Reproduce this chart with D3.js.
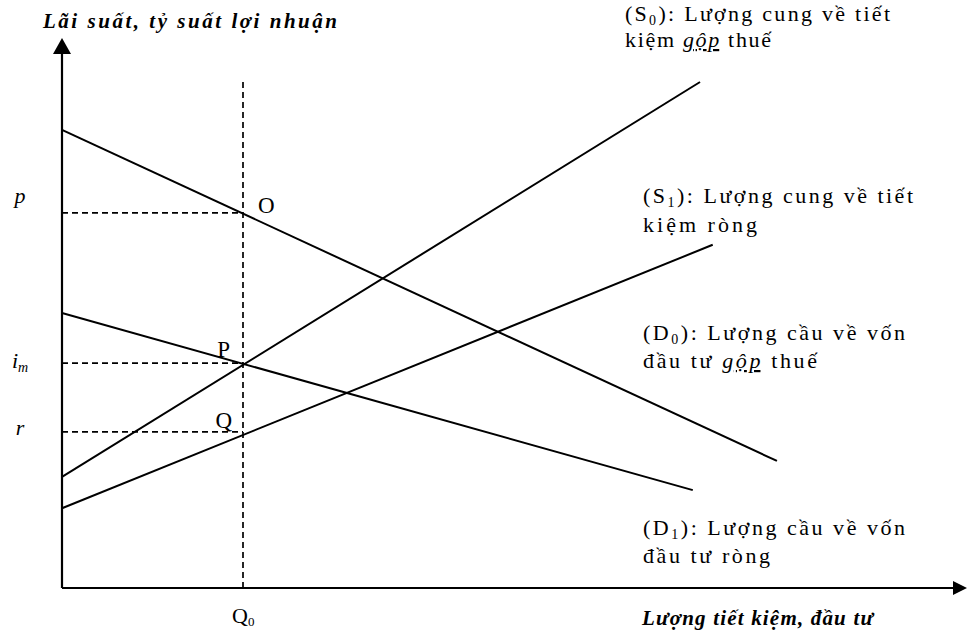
<!DOCTYPE html>
<html>
<head>
<meta charset="utf-8">
<script src="https://cdn.jsdelivr.net/npm/d3@7"></script>
<style>
    body { margin: 0; background: #fff; }
    svg { display: block; }
</style>
</head>
<body>
<svg id="market-chart" width="971" height="632"></svg>
<script>
// quantity (x) and rate (y) are both on a 0..100 scale
const curve_names = ["S0", "S1", "D0", "D1"];
const curve_start_q = [0, 0, 0, 0];
const curve_start_rate = [20.2, 14.5, 83.3, 50];
const curve_end_q = [70.5, 71.9, 79, 69.7];
const curve_end_rate = [92, 62.4, 23.1, 17.8];

// rate levels marked on the y axis: p, i_m, r
const level_names = ["p", "i", "r"];
const level_subs = ["", "m", ""];
const level_values = [68.2, 40.9, 28.4];
const point_names = ["O", "P", "Q"];

// quantity Q0 where the dashed vertical sits
const q0_value = 20;
const q0_top = 92.7;

// legend texts for the four curves
const legend_symbols = ["S", "S", "D", "D"];
const legend_subs = ["0", "1", "0", "1"];
const legend_line1 = ["): Lượng cung về tiết", "): Lượng cung về tiết", "): Lượng cầu về vốn", "): Lượng cầu về vốn"];
const legend_line2_start = ["kiệm ", "kiệm ròng", "đầu tư ", "đầu tư ròng"];
const legend_line2_gross = ["gộp", "", "gộp", ""];
const legend_line2_end = [" thuế", "", " thuế", ""];

const y_title = "Lãi suất, tỷ suất lợi nhuận";
const x_title = "Lượng tiết kiệm, đầu tư";

const serif = "'Liberation Serif', 'Times New Roman', serif";

function main() {
    let svg = d3.select("#market-chart");

    let xScale = d3.scaleLinear().domain([0, 100]).range([62, 967]);
    let yScale = d3.scaleLinear().domain([0, 100]).range([588, 38]);

    // axes with arrow heads, drawn by hand (no ticks on this chart)
    svg.append("line")
        .attr("x1", xScale(0)).attr("y1", yScale(0))
        .attr("x2", xScale(0)).attr("y2", yScale(100) + 12)
        .attr("stroke", "#000").attr("stroke-width", 2.2);
    svg.append("path")
        .attr("d", `M${xScale(0)},${yScale(100)} l-9,16 l18,0 z`)
        .attr("fill", "#000");

    svg.append("line")
        .attr("x1", xScale(0)).attr("y1", yScale(0))
        .attr("x2", xScale(100) - 10).attr("y2", yScale(0))
        .attr("stroke", "#000").attr("stroke-width", 2.2);
    svg.append("path")
        .attr("d", `M${xScale(100)},${yScale(0)} l-14,-7 l0,14 z`)
        .attr("fill", "#000");

    // dashed guides
    svg.append("line")
        .attr("x1", xScale(q0_value)).attr("y1", yScale(0))
        .attr("x2", xScale(q0_value)).attr("y2", yScale(q0_top))
        .attr("stroke", "#000").attr("stroke-width", 1.7)
        .attr("stroke-dasharray", "6,4");

    svg.selectAll(".level-dash")
        .data(level_values)
        .join("line")
        .attr("class", "level-dash")
        .attr("x1", xScale(0)).attr("y1", d => yScale(d))
        .attr("x2", xScale(q0_value)).attr("y2", d => yScale(d))
        .attr("stroke", "#000").attr("stroke-width", 1.7)
        .attr("stroke-dasharray", "6,4");

    // the four straight curves
    let line_generator = d3.line()
        .x(d => xScale(d[0]))
        .y(d => yScale(d[1]));

    svg.selectAll(".curve")
        .data(curve_names.map((name, i) => [[curve_start_q[i], curve_start_rate[i]], [curve_end_q[i], curve_end_rate[i]]]))
        .join("path")
        .attr("class", "curve")
        .attr("d", d => line_generator(d))
        .attr("fill", "none")
        .attr("stroke", "#000")
        .attr("stroke-width", 2);

    // level labels on the left
    let level_dy = [-10, 5, 3];
    level_names.forEach(function(name, i) {
        let t = svg.append("text")
            .attr("x", 20)
            .attr("y", yScale(level_values[i]) + level_dy[i])
            .attr("text-anchor", "middle")
            .attr("font-family", serif)
            .attr("font-style", "italic")
            .attr("font-size", 22)
            .text(name);
        if (level_subs[i] !== "") {
            t.append("tspan")
                .attr("font-size", 14)
                .attr("dy", 4)
                .text(level_subs[i]);
        }
    });

    // O, P, Q next to the guide crossings
    let point_dx = [15, -13, -11];
    let point_dy = [0, -6, -4];
    let point_anchor = ["start", "end", "end"];
    point_names.forEach(function(name, i) {
        svg.append("text")
            .attr("x", xScale(q0_value) + point_dx[i])
            .attr("y", yScale(level_values[i]) + point_dy[i])
            .attr("text-anchor", point_anchor[i])
            .attr("font-family", serif)
            .attr("font-size", 23)
            .text(name);
    });

    // Q0 below the axis
    let q0_label = svg.append("text")
        .attr("x", xScale(q0_value) - 11)
        .attr("y", 623)
        .attr("font-family", serif)
        .attr("font-size", 22)
        .text("Q");
    q0_label.append("tspan").attr("font-size", 13).attr("dy", 3).text("0");

    // legend, two lines per curve
    let legend_x = [625, 643, 643, 643];
    let legend_y = [21, 203, 340, 535];
    let legend_gap = [26, 29, 28, 28];
    let legend_w1 = [265, 270, 262, 262];
    let legend_w2 = [146, 114, 174, 127];

    curve_names.forEach(function(name, i) {
        let l1 = svg.append("text")
            .attr("x", legend_x[i])
            .attr("y", legend_y[i])
            .attr("font-family", serif)
            .attr("font-size", 22)
            .attr("textLength", legend_w1[i])
            .attr("lengthAdjust", "spacing");
        l1.append("tspan").text("(" + legend_symbols[i]);
        l1.append("tspan").attr("font-size", 14).attr("dy", 4).text(legend_subs[i]);
        l1.append("tspan").attr("dy", -4).text(legend_line1[i]);

        let l2 = svg.append("text")
            .attr("x", legend_x[i])
            .attr("y", legend_y[i] + legend_gap[i])
            .attr("font-family", serif)
            .attr("font-size", 22)
            .attr("textLength", legend_w2[i])
            .attr("lengthAdjust", "spacing");
        l2.append("tspan").text(legend_line2_start[i]);
        if (legend_line2_gross[i] !== "") {
            l2.append("tspan")
                .attr("font-style", "italic")
                .attr("text-decoration", "underline")
                .text(legend_line2_gross[i]);
            l2.append("tspan").text(legend_line2_end[i]);
        }
    });

    // axis titles
    svg.append("text")
        .attr("x", 43).attr("y", 28)
        .attr("font-family", serif)
        .attr("font-weight", "bold").attr("font-style", "italic")
        .attr("font-size", 21)
        .attr("textLength", 294).attr("lengthAdjust", "spacing")
        .text(y_title);

    svg.append("text")
        .attr("x", 642).attr("y", 625)
        .attr("font-family", serif)
        .attr("font-weight", "bold").attr("font-style", "italic")
        .attr("font-size", 21)
        .attr("textLength", 231).attr("lengthAdjust", "spacing")
        .text(x_title);
}

main();
</script>
</body>
</html>
